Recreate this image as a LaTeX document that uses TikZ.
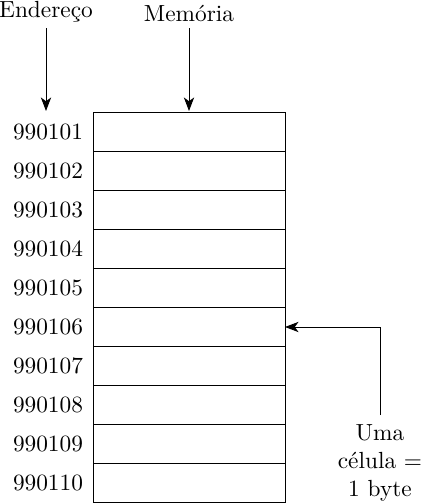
\documentclass[tikz,border=0pt]{standalone}
\usetikzlibrary{arrows.meta}
\begin{document}
\begin{tikzpicture}[x=0.4286pt,y=-0.4286pt,
  cell/.style={draw,line width=0.4pt,minimum width=192*0.4286pt,minimum height=39*0.4286pt,inner sep=0pt,outer sep=0pt},
  addr/.style={inner sep=0pt},
  arr/.style={-{Stealth[length=5.8pt,width=4.4pt,inset=1.6pt]},line width=0.4pt}]
\useasboundingbox (0,0) rectangle (421,504);
\node[addr] (end) at (46,12) {Endereço};
\node[addr] (mem) at (189,13) {Memória};
\foreach \i/\a in {0/990101,1/990102,2/990103,3/990104,4/990105,5/990106,6/990107,7/990108,8/990109,9/990110}{
  \node[cell] (c\i) at (189,{132+39*\i}) {};
  \node[addr] (a\i) at (48,{132+39*\i}) {\a};
}
\coordinate (e0) at (46,28);
\coordinate (e1) at (46,111);
\coordinate (m0) at (189,28);
\coordinate (m1) at (189,111);
\draw[arr] (e0) -- (e1);
\draw[arr] (m0) -- (m1);
\node[align=center,inner sep=0pt] (uma) at (380,463) {Uma\\célula =\\1 byte};
\coordinate (k) at (380,415);
\draw[arr] (k) |- (c5.east);
\end{tikzpicture}
\end{document}
